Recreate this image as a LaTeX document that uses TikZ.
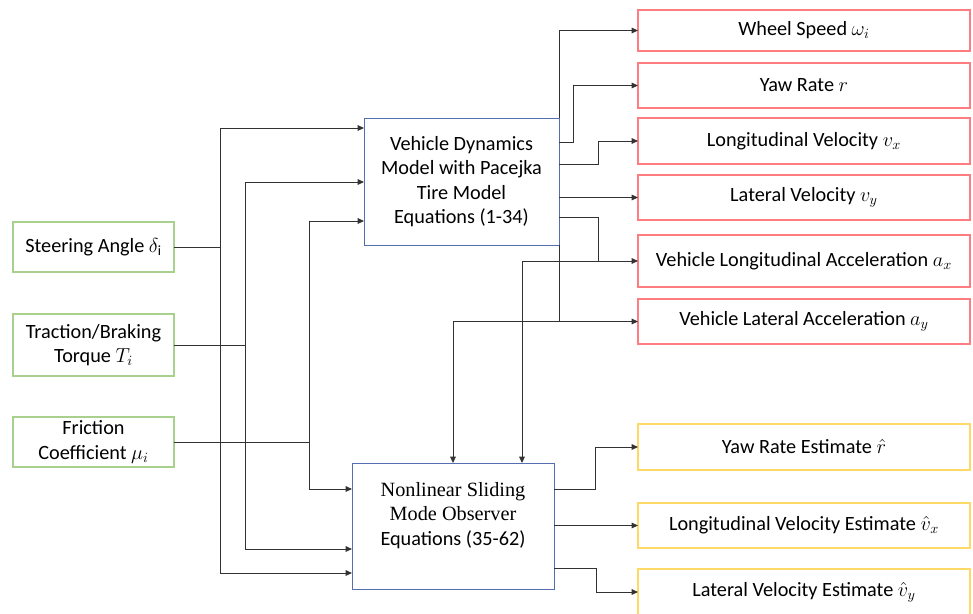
\documentclass[tikz,border=0pt]{standalone}
\usepackage{fontspec}
\setmainfont{Carlito}
\newfontfamily\timesfont{Liberation Serif}
\usetikzlibrary{arrows.meta}
\definecolor{boxgreen}{RGB}{169,209,142}
\definecolor{boxblue}{RGB}{84,110,176}
\definecolor{boxred}{RGB}{255,124,128}
\definecolor{boxyellow}{RGB}{255,217,102}
\definecolor{wire}{RGB}{50,50,50}

\begin{document}
\begin{tikzpicture}[x=0.025cm, y=-0.025cm,
    box/.style={draw, line width=0.8pt, inner sep=0pt, outer sep=0pt, align=center,
      font=\fontsize{14.4}{17.4}\selectfont},
    inbox/.style={box, draw=boxgreen, minimum width=4.025cm},
    outbox/.style={box, draw=boxred, minimum width=8.3cm, minimum height=1.125cm},
    estbox/.style={box, draw=boxyellow, minimum width=8.3cm, minimum height=1.15cm},
    modbox/.style={box, draw=boxblue, line width=0.6pt},
    sig/.style={draw=wire, line width=0.6pt, -{Triangle[length=4.5pt, width=4pt]}}]
  \useasboundingbox (0,0) rectangle (973,613);

  % inputs
  \node[inbox, minimum height=1.25cm] (steer) at (93.5,247) {Steering Angle $\delta_{\mathrm{i}}$};
  \node[inbox, minimum height=1.55cm] (torque) at (93.5,345) {Traction/Braking\\Torque $T_i$};
  \node[inbox, minimum height=1.25cm] (fric) at (93.5,442) {Friction\\Coefficient $\mu_i$};

  % models
  \node[modbox, minimum width=4.875cm, minimum height=3.175cm] (vd) at (461.5,181.5)
    {Vehicle Dynamics\\Model with Pacejka\\Tire Model\\Equations (1-34)};
  \node[modbox, minimum width=5.05cm, minimum height=3.15cm] (smo) at (453,526)
    {{\timesfont Nonlinear Sliding}\\{\timesfont Mode Observer}\\Equations (35-62)\\\mbox{}};

  % outputs
  \node[outbox, minimum height=1.025cm] (speed) at (804,30.5) {Wheel Speed $\omega_i$};
  \node[outbox] (yaw) at (804,85.5) {Yaw Rate $r$};
  \node[outbox, minimum height=1.15cm] (vx) at (804,141) {Longitudinal Velocity $v_x$};
  \node[outbox] (vy) at (804,197.5) {Lateral Velocity $v_y$};
  \node[outbox, minimum height=1.3cm] (ax) at (804,261) {Vehicle Longitudinal Acceleration $a_x$};
  \node[outbox] (ay) at (804,321.5) {Vehicle Lateral Acceleration $a_y$};

  \node[estbox] (yawest) at (804,447) {Yaw Rate Estimate $\hat{r}$};
  \node[estbox, minimum height=1.125cm] (vxest) at (804,525.5) {Longitudinal Velocity Estimate $\hat{v}_x$};
  \node[estbox] (vyest) at (804,592) {Lateral Velocity Estimate $\hat{v}_y$};

  % input buses
  \draw[sig] (steer.east) -| (220,128) -- (vd.west |- 0,128);
  \draw[sig] (steer.east) -| (220,573) -- (smo.west |- 0,573);
  \draw[sig] (torque.east) -| (245,182) -- (vd.west |- 0,182);
  \draw[sig] (torque.east) -| (245,549) -- (smo.west |- 0,549);
  \draw[sig] (fric.east) -| (309,221) -- (vd.west |- 0,221);
  \draw[sig] (fric.east) -| (309,489) -- (smo.west |- 0,489);

  % vehicle model outputs
  \draw[sig] (vd.north east) -- (vd.east |- speed.west) -- (speed.west);
  \draw[sig] (vd.east |- 0,142) -- (573,142) |- (yaw.west);
  \draw[sig] (vd.east |- 0,164) -- (598,164) |- (vx.west);
  \draw[sig] (vd.east |- vy.west) -- (vy.west);
  \draw[sig] (vd.east |- 0,217) -- (598,217) |- (ax.west);
  \draw[sig] (vd.south east) -- (vd.east |- ay.west) -- (ay.west);

  % measurements into observer
  \draw[sig] (598,261) -- (522,261) -- (522,0 |- smo.north);
  \draw[sig] (vd.east |- ay.west) -- (453,321.5) -- (453,0 |- smo.north);

  % observer outputs
  \draw[sig] (smo.east |- 0,489) -- (595,489) |- (yawest.west);
  \draw[sig] (smo.east |- vxest.west) -- (vxest.west);
  \draw[sig] (smo.east |- 0,568) -- (596,568) |- (vyest.west);
\end{tikzpicture}
\end{document}
